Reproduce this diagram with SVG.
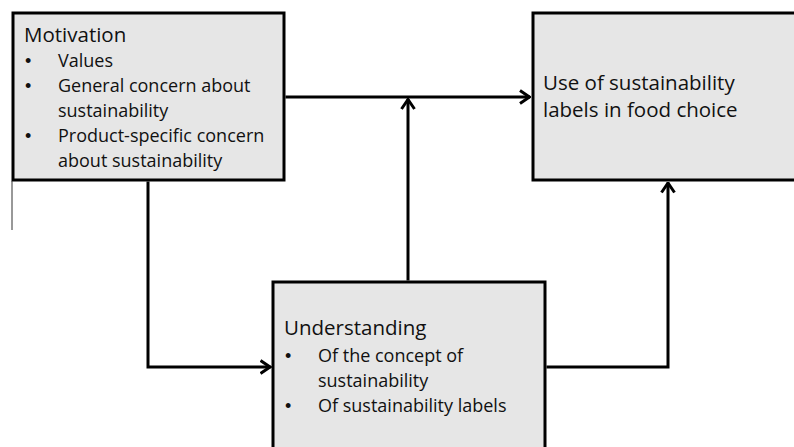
<svg xmlns="http://www.w3.org/2000/svg" width="794" height="447" viewBox="0 0 794 447">
<style>
.box{fill:#e6e6e6;stroke:#000;stroke-width:3}
.h{font-family:"Open Sans","Liberation Sans",sans-serif;font-size:20.5px;fill:#111}
.b{font-family:"Open Sans","Liberation Sans",sans-serif;font-size:18px;fill:#111}
.d{font-family:"Liberation Sans",sans-serif;font-size:18px;fill:#111}
.c{fill:none;stroke:#000;stroke-width:3}
</style>
<defs>
<marker id="arr" viewBox="0 0 12 16" refX="11" refY="8" markerWidth="12" markerHeight="16" markerUnits="userSpaceOnUse" orient="auto">
<path d="M1,1.5 L10.5,8 L1,14.5" fill="none" stroke="#000" stroke-width="3"/>
</marker>
</defs>
<rect width="794" height="447" fill="#fff"/>
<g id="motivation">
<rect class="box" x="13" y="13" width="271" height="167"/>
<text class="h" x="24" y="42">Motivation</text>
<text class="d" x="25" y="67">•</text><text class="b" x="58" y="67">Values</text>
<text class="d" x="25" y="92">•</text><text class="b" x="58" y="92">General concern about</text>
<text class="b" x="58" y="117">sustainability</text>
<text class="d" x="25" y="142">•</text><text class="b" x="58" y="142">Product-specific concern</text>
<text class="b" x="58" y="167">about sustainability</text>
</g>
<g id="use">
<rect class="box" x="533" y="13" width="270" height="167"/>
<text class="h" x="543" y="90">Use of sustainability</text>
<text class="h" x="543" y="117">labels in food choice</text>
</g>
<g id="understanding">
<rect class="box" x="273" y="282" width="272" height="180"/>
<text class="h" x="284" y="335">Understanding</text>
<text class="d" x="285" y="362">•</text><text class="b" x="318" y="362">Of the concept of</text>
<text class="b" x="318" y="387">sustainability</text>
<text class="d" x="285" y="412">•</text><text class="b" x="318" y="412">Of sustainability labels</text>
</g>
<g id="connectors">
<line x1="12" y1="181" x2="12" y2="230" stroke="#333" stroke-width="1"/>
<path class="c" d="M285.5 97 H530" marker-end="url(#arr)"/>
<path class="c" d="M408 280.5 V99" marker-end="url(#arr)"/>
<path class="c" d="M148 181.5 V367 H270.5" marker-end="url(#arr)"/>
<path class="c" d="M546.5 367 H668 V182.5" marker-end="url(#arr)"/>
</g>
</svg>
